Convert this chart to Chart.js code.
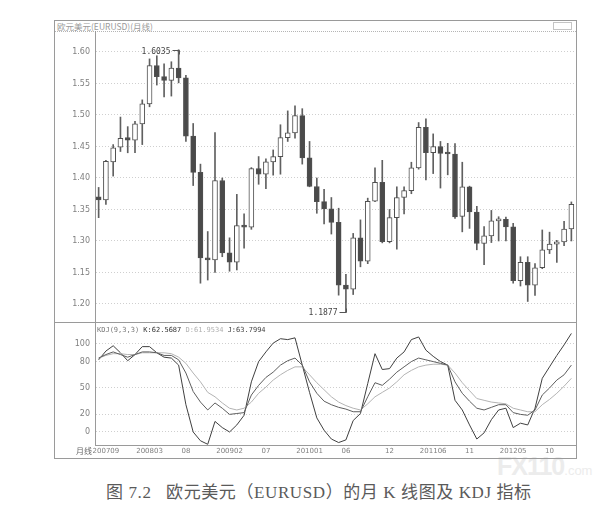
<!DOCTYPE html>
<html>
<head>
<meta charset="utf-8">
<script src="https://cdn.jsdelivr.net/npm/chart.js@4.4.0/dist/chart.umd.min.js"></script>
<style>
body { margin: 0; background: #fff; }
#page { position: relative; width: 615px; height: 506px; overflow: hidden; background: #fff; }
#frame { position: absolute; left: 54px; top: 20px; width: 523px; height: 439px; border: 1px solid #9a9a9a; box-sizing: border-box; }
#title { position: absolute; left: 57px; top: 21px; font: 8.5px "Noto Sans CJK SC", sans-serif; color: #999; line-height: 10px; }
#icon { position: absolute; left: 553px; top: 22px; width: 19px; height: 8px; border: 1px solid #c4c4c4; box-sizing: border-box; }
#titleLine { position: absolute; left: 55px; top: 31px; width: 521px; border-top: 1px dotted #b5b5b5; }
#sepLine { position: absolute; left: 55px; top: 322px; width: 521px; border-top: 1px solid #9a9a9a; }
#upper { position: absolute; left: 54px; top: 31px; }
#lower { position: absolute; left: 54px; top: 322px; }
#caption { position: absolute; left: 106px; top: 478px; font: 17px "Liberation Serif", "Noto Sans CJK SC", serif; color: #5a5a5a; white-space: pre; letter-spacing: 0.6px; }
#mark { position: absolute; left: 497px; top: 452px; font: bold 25px "Liberation Sans", sans-serif; color: #ececec; letter-spacing: -1px; }
#mark span { font-size: 13px; font-weight: normal; letter-spacing: 0; }
</style>
</head>
<body>
<div id="page">
  <div id="mark">FX110<span>.com</span></div>
  <div id="frame"></div>
  <div id="title">欧元美元(EURUSD)(月线)</div>
  <div id="icon"></div>
  <div id="titleLine"></div>
  <div id="upper"><canvas id="kChart" width="522" height="291"></canvas></div>
  <div id="lower"><canvas id="kdjChart" width="522" height="135"></canvas></div>
  <div id="sepLine"></div>
  <div id="caption">图 7.2   欧元美元（EURUSD）的月 K 线图及 KDJ 指标</div>
</div>
<script>
const months = [
    '200708', '200709', '200710', '200711', '200712',
    '200801', '200802', '200803', '200804', '200805', '200806', '200807', '200808', '200809', '200810', '200811', '200812',
    '200901', '200902', '200903', '200904', '200905', '200906', '200907', '200908', '200909', '200910', '200911', '200912',
    '201001', '201002', '201003', '201004', '201005', '201006', '201007', '201008', '201009', '201010', '201011', '201012',
    '201101', '201102', '201103', '201104', '201105', '201106', '201107', '201108', '201109', '201110', '201111', '201112',
    '201201', '201202', '201203', '201204', '201205', '201206', '201207', '201208', '201209', '201210', '201211', '201212',
    '201301'
];

const opens = [
    1.3700, 1.3650, 1.4255, 1.4490, 1.4640,
    1.4600, 1.4860, 1.5175, 1.5785, 1.5610, 1.5550, 1.5745, 1.5590, 1.4665, 1.4090, 1.2730, 1.2700,
    1.3960, 1.2810, 1.2665, 1.3245, 1.3220, 1.4150, 1.4060, 1.4255, 1.4340, 1.4640, 1.4715, 1.4990,
    1.4320, 1.3865, 1.3625, 1.3510, 1.3295, 1.2300, 1.2235, 1.3050, 1.2680, 1.3630, 1.3930, 1.2990,
    1.3370, 1.3690, 1.3800, 1.4160, 1.4805, 1.4400, 1.4500, 1.4390, 1.4380, 1.3390, 1.3860, 1.3460,
    1.2960, 1.3080, 1.3320, 1.3345, 1.3225, 1.2370, 1.2660, 1.2300, 1.2575, 1.2860, 1.2950, 1.2985,
    1.3190
];

const highs = [
    1.3850, 1.4280, 1.4530, 1.4967, 1.4815,
    1.4900, 1.5240, 1.5890, 1.5940, 1.5810, 1.5845, 1.6035, 1.5630, 1.4865, 1.4220, 1.3150, 1.4720,
    1.4000, 1.3050, 1.3740, 1.3430, 1.4165, 1.4340, 1.4305, 1.4445, 1.4845, 1.5065, 1.5145, 1.5100,
    1.4580, 1.4000, 1.3820, 1.3690, 1.3520, 1.2470, 1.3120, 1.3335, 1.3680, 1.4160, 1.4280, 1.3500,
    1.3860, 1.3860, 1.4250, 1.4880, 1.4940, 1.4700, 1.4580, 1.4550, 1.4545, 1.4250, 1.3870, 1.3550,
    1.3230, 1.3485, 1.3385, 1.3380, 1.3280, 1.2750, 1.2750, 1.2640, 1.3175, 1.3140, 1.3010, 1.3310,
    1.3620
];

const lows = [
    1.3370, 1.3580, 1.4030, 1.4420, 1.4400,
    1.4400, 1.4530, 1.5130, 1.5475, 1.5285, 1.5300, 1.5510, 1.4580, 1.3880, 1.2330, 1.2380, 1.2500,
    1.2750, 1.2520, 1.2540, 1.2885, 1.3185, 1.3900, 1.3830, 1.4045, 1.4060, 1.4580, 1.4630, 1.4220,
    1.3860, 1.3440, 1.3270, 1.3110, 1.2140, 1.1877, 1.2150, 1.2590, 1.2640, 1.3625, 1.2970, 1.2970,
    1.2870, 1.3430, 1.3750, 1.4140, 1.3970, 1.4070, 1.3840, 1.4050, 1.3360, 1.3145, 1.3200, 1.2860,
    1.2625, 1.2975, 1.3000, 1.3000, 1.2330, 1.2285, 1.2040, 1.2135, 1.2560, 1.2800, 1.2660, 1.2925,
    1.3000
];

const closes = [
    1.3650, 1.4265, 1.4480, 1.4630, 1.4600,
    1.4860, 1.5175, 1.5785, 1.5610, 1.5550, 1.5745, 1.5590, 1.4665, 1.4090, 1.2730, 1.2700, 1.3960,
    1.2810, 1.2665, 1.3245, 1.3220, 1.4150, 1.4060, 1.4255, 1.4340, 1.4640, 1.4715, 1.4990, 1.4320,
    1.3865, 1.3625, 1.3510, 1.3295, 1.2300, 1.2235, 1.3050, 1.2680, 1.3630, 1.3930, 1.2990, 1.3370,
    1.3690, 1.3800, 1.4160, 1.4805, 1.4400, 1.4500, 1.4390, 1.4380, 1.3380, 1.3860, 1.3460, 1.2960,
    1.3080, 1.3320, 1.3345, 1.3225, 1.2370, 1.2660, 1.2300, 1.2575, 1.2860, 1.2950, 1.2985, 1.3190,
    1.3580
];

const kValues = [
    84, 88, 91, 88, 85,
    88, 91, 91, 90, 87, 87, 82, 67, 46, 34, 25, 33,
    27, 20, 21, 22, 42, 53, 62, 68, 76, 81, 84, 76,
    57, 44, 35, 31, 28, 26, 23, 23, 40, 56, 53, 60,
    68, 74, 80, 84, 82, 80, 78, 76, 57, 44, 35, 27,
    25, 28, 31, 31, 22, 20, 19, 25, 42, 50, 59, 65,
    76
];

const dValues = [
    84, 87, 89, 89, 88,
    88, 90, 90, 90, 90, 89, 85, 78, 67, 57, 45, 40,
    33, 27, 25, 27, 34, 44, 51, 59, 65, 70, 74, 74,
    65, 56, 48, 40, 34, 30, 27, 25, 32, 40, 45, 50,
    57, 65, 70, 74, 76, 77, 77, 76, 67, 56, 47, 38,
    36, 34, 33, 32, 27, 25, 23, 23, 31, 37, 44, 52,
    61
];

const jValues = [
    82, 92, 98, 90, 81,
    88, 97, 97, 90, 85, 84, 76, 31, 0, -10, -14, 12,
    5, 0, 8, 19, 57, 80, 91, 101, 106, 105, 107, 76,
    45, 16, 2, -8, -12, -9, 13, 21, 55, 89, 71, 72,
    84, 91, 105, 108, 93, 86, 80, 76, 36, 25, 8, -8,
    -1, 14, 25, 27, 5, 10, 8, 27, 61, 74, 87, 99,
    112
];

const priceTicks = [1.20, 1.25, 1.30, 1.35, 1.40, 1.45, 1.50, 1.55, 1.60];
const priceTickLabels = ['1.20', '1.15', '1.30', '1.35', '1.40', '1.45', '1.50', '1.55', '1.60'];
const kdjTicks = [0, 20, 50, 80, 100];
const kdjTickLabels = ['0', '20', '50', '80', '100'];
const dateTickMonths = ['200709', '200803', '200808', '200902', '200907', '201001', '201006', '201012', '201106', '201111', '201205', '201210'];
const dateTickTexts = ['200709', '200803', '08', '200902', '07', '201001', '06', '12', '201106', '11', '201205', '10'];

const kdjHeader = [
    { text: 'KDJ(9,3,3) ', color: '#777' },
    { text: 'K:62.5687 ', color: '#333' },
    { text: 'D:61.9534 ', color: '#b0b0b0' },
    { text: 'J:63.7994', color: '#444' }
];

const axisWidth = 41;
const tickFont = { family: 'DejaVu Sans', size: 8 };

// fixed width y axis, no label padding above/below the plot
function fitYAxis(scale)
{
    scale.width = axisWidth;
    scale.paddingTop = 0;
    scale.paddingBottom = 0;
}

// high / low price tags
const extremeMarks = {
    id: 'extremeMarks',
    afterDatasetsDraw(chart)
    {
        const { ctx, scales: { x, y } } = chart;
        const hi = highs.indexOf(Math.max(...highs));
        const lo = lows.indexOf(Math.min(...lows));

        ctx.save();
        ctx.font = '8px "DejaVu Sans Mono"';
        ctx.fillStyle = '#444';
        ctx.strokeStyle = '#555';
        ctx.lineWidth = 1;
        ctx.textAlign = 'right';
        ctx.textBaseline = 'middle';

        const hx = Math.round(x.getPixelForValue(hi)) + 0.5;
        const hy = Math.round(y.getPixelForValue(highs[hi])) + 0.5;
        ctx.fillText(highs[hi].toFixed(4), hx - 9, hy + 1);
        ctx.beginPath();
        ctx.moveTo(hx - 7, hy);
        ctx.lineTo(hx, hy);
        ctx.lineTo(hx, hy + 4);
        ctx.stroke();

        const lx = Math.round(x.getPixelForValue(lo)) + 0.5;
        const ly = Math.round(y.getPixelForValue(lows[lo])) + 0.5;
        ctx.fillText(lows[lo].toFixed(4), lx - 9, ly);
        ctx.beginPath();
        ctx.moveTo(lx - 7, ly);
        ctx.lineTo(lx, ly);
        ctx.lineTo(lx, ly - 4);
        ctx.stroke();
        ctx.restore();
    }
};

const kdjTexts = {
    id: 'kdjTexts',
    afterDraw(chart)
    {
        const { ctx, chartArea } = chart;
        ctx.save();
        ctx.font = '7px "DejaVu Sans Mono"';
        ctx.textBaseline = 'middle';
        let tx = chartArea.left + 2;
        for (const part of kdjHeader)
        {
            ctx.fillStyle = part.color;
            ctx.fillText(part.text, tx, chartArea.top + 8);
            tx += ctx.measureText(part.text).width;
        }
        ctx.font = '8px "Noto Sans CJK SC"';
        ctx.fillStyle = '#666';
        ctx.textAlign = 'right';
        ctx.fillText('月线', chartArea.left - 3, chartArea.bottom + 6);
        ctx.restore();
    }
};

new Chart(document.getElementById('kChart'), {
    type: 'bar',
    data: {
        labels: months,
        datasets: [{
            label: 'body',
            data: months.map((m, i) => [opens[i], closes[i]]),
            backgroundColor: months.map((m, i) => closes[i] < opens[i] ? '#4a4a4a' : '#ffffff'),
            borderColor: '#505050',
            borderWidth: 1,
            borderSkipped: false,
            barThickness: 5,
            minBarLength: 2,
            grouped: false
        }, {
            label: 'wick',
            data: months.map((m, i) => [lows[i], highs[i]]),
            backgroundColor: '#606060',
            borderWidth: 0,
            barThickness: 1,
            grouped: false
        }]
    },
    options: {
        responsive: false,
        animation: false,
        layout: { padding: { right: 1, top: 0, bottom: 0, left: 0 } },
        plugins: { legend: { display: false }, tooltip: { enabled: false } },
        scales: {
            x: { display: false, offset: true, grid: { display: false } },
            y: {
                min: 1.1714,
                max: 1.6333,
                afterFit: fitYAxis,
                afterBuildTicks: (scale) => { scale.ticks = priceTicks.map(v => ({ value: v })); },
                ticks: {
                    padding: 5,
                    color: '#808080',
                    font: tickFont,
                    callback: (value, index) => priceTickLabels[index]
                },
                grid: { color: '#cfcfcf', drawTicks: false, lineWidth: 1 },
                border: { display: true, color: '#9a9a9a', dash: [1, 2] }
            }
        }
    },
    plugins: [extremeMarks]
});

new Chart(document.getElementById('kdjChart'), {
    type: 'line',
    data: {
        labels: months,
        datasets: [{
            label: 'K',
            data: kValues,
            borderColor: '#5e5e5e',
            borderWidth: 1,
            pointRadius: 0
        }, {
            label: 'D',
            data: dValues,
            borderColor: '#b3b3b3',
            borderWidth: 1,
            pointRadius: 0
        }, {
            label: 'J',
            data: jValues,
            borderColor: '#404040',
            borderWidth: 1,
            pointRadius: 0
        }]
    },
    options: {
        responsive: false,
        animation: false,
        layout: { padding: { right: 1, top: 0, bottom: 0, left: 0 } },
        plugins: { legend: { display: false }, tooltip: { enabled: false } },
        scales: {
            x: {
                offset: true,
                afterFit: (scale) => { scale.height = 12; scale.paddingLeft = 0; scale.paddingRight = 0; },
                grid: { display: false, drawTicks: false },
                border: { display: true, color: '#9a9a9a' },
                ticks: {
                    autoSkip: false,
                    maxRotation: 0,
                    padding: 2,
                    color: '#808080',
                    font: { family: 'DejaVu Sans', size: 7 },
                    callback: (value, index) =>
                    {
                        const at = dateTickMonths.indexOf(months[index]);
                        return at < 0 ? '' : dateTickTexts[at];
                    }
                }
            },
            y: {
                min: -14.8,
                max: 125,
                afterFit: fitYAxis,
                afterBuildTicks: (scale) => { scale.ticks = kdjTicks.map(v => ({ value: v })); },
                ticks: {
                    padding: 5,
                    color: '#808080',
                    font: tickFont,
                    callback: (value, index) => kdjTickLabels[index]
                },
                grid: { color: '#cfcfcf', drawTicks: false, lineWidth: 1 },
                border: { display: true, color: '#9a9a9a', dash: [1, 2] }
            }
        }
    },
    plugins: [kdjTexts]
});
</script>
</body>
</html>
